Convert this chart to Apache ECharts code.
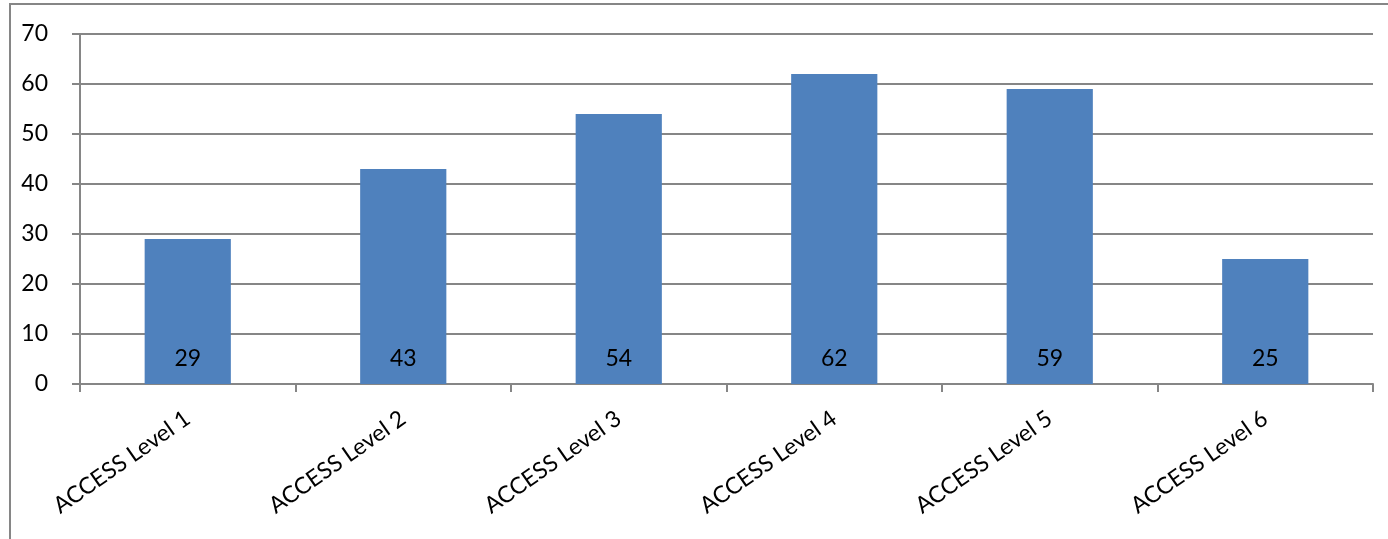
<!DOCTYPE html>
<html><head><meta charset="utf-8">
<script src="https://cdn.jsdelivr.net/npm/echarts@6/dist/echarts.min.js"></script>
<style>html,body{margin:0;padding:0;background:#fff}#c{width:1388px;height:539px}</style>
</head><body><div id="c"></div>
<script>
const categories = ['ACCESS Level 1','ACCESS Level 2','ACCESS Level 3','ACCESS Level 4','ACCESS Level 5','ACCESS Level 6'];
const values = [29, 43, 54, 62, 59, 25];
const yTicks = [0, 10, 20, 30, 40, 50, 60, 70];

const FONT = 'Lato, "Open Sans", sans-serif';
const chart = echarts.init(document.getElementById('c'));
chart.setOption({
  animation: false,
  graphic: [{
    type: 'rect', shape: {x: 10, y: 4, width: 1420, height: 600},
    style: {fill: null, stroke: '#868686', lineWidth: 2}, silent: true
  }],
  grid: {left: 80, right: 15, top: 34, bottom: 155, containLabel: false},
  xAxis: {
    type: 'category', data: categories,
    axisLine: {lineStyle: {color: '#868686', width: 2}},
    axisTick: {show: true, length: 8, alignWithLabel: false, lineStyle: {color: '#868686', width: 2}},
    axisLabel: {rotate: 35, margin: 32, fontSize: 23, color: '#000', fontFamily: FONT}
  },
  yAxis: {
    type: 'value', min: yTicks[0], max: yTicks[yTicks.length-1], interval: 10,
    axisLine: {show: true, lineStyle: {color: '#868686', width: 2}},
    axisTick: {show: true, length: 8, lineStyle: {color: '#868686', width: 2}},
    splitLine: {lineStyle: {color: '#868686', width: 2}},
    axisLabel: {fontSize: 23, color: '#000', fontFamily: FONT, margin: 32}
  },
  series: [{
    type: 'bar', data: values, barWidth: '40%',
    itemStyle: {color: '#4F81BD'},
    label: {show: true, position: 'insideBottom', distance: 14, fontSize: 23, color: '#000', fontFamily: FONT}
  }]
});
</script></body></html>
